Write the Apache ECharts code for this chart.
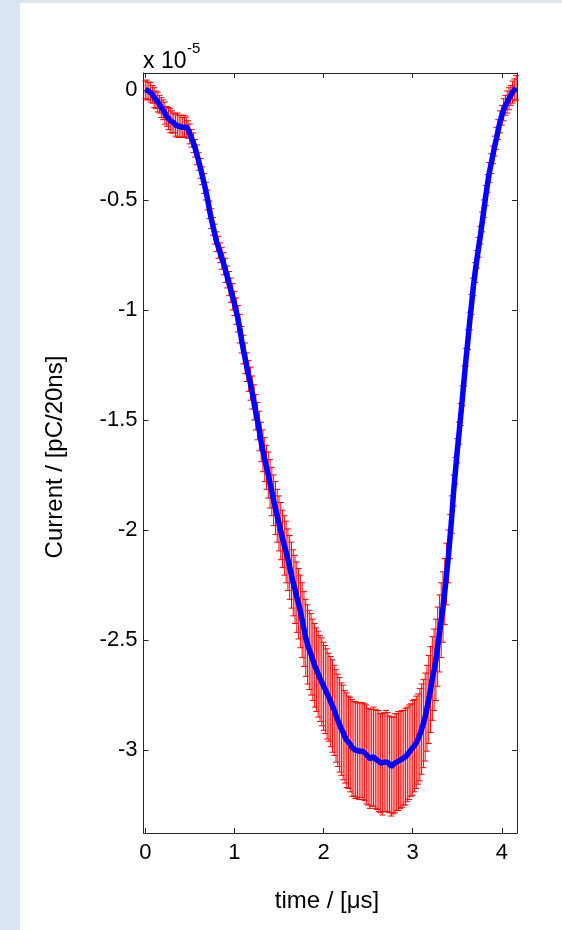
<!DOCTYPE html>
<html>
  <head>
    <meta charset="utf-8" />
    <title>Current vs time</title>
    <style>
      html, body { margin: 0; padding: 0; background: #dbe5f1; }
      #chart-container {
        position: absolute; left: 20px; top: 3px;
        width: 542px; height: 927px; background: #ffffff;
      }
    </style>
  </head>
  <body>
    <div id="chart-container"></div>
    <script src="https://fastly.jsdelivr.net/npm/echarts@6/dist/echarts.min.js"></script>
    <script>
      // sampling step of the recording, in microseconds (20 ns)
      var dt = 0.02;

      // mean current, units of 1e-5 pC/20ns, one value per sample from t = 0
      var meanCurrent = [
        0.00, 0.00, -0.005, -0.01, -0.02, -0.035, -0.045, -0.055, -0.065, -0.08,
        -0.09, -0.105, -0.12, -0.13, -0.14, -0.145, -0.15, -0.16, -0.16, -0.165,
        -0.165, -0.17, -0.165, -0.168, -0.18, -0.2, -0.22, -0.24, -0.265, -0.295,
        -0.325, -0.356, -0.39, -0.425, -0.46, -0.5, -0.545, -0.585, -0.62, -0.655,
        -0.69, -0.715, -0.74, -0.765, -0.79, -0.82, -0.85, -0.88, -0.91, -0.94,
        -0.97, -1.005, -1.04, -1.085, -1.135, -1.18, -1.22, -1.26, -1.3, -1.335,
        -1.375, -1.42, -1.465, -1.505, -1.55, -1.6, -1.64, -1.68, -1.715, -1.75,
        -1.79, -1.825, -1.865, -1.9, -1.935, -1.97, -2.005, -2.04, -2.07, -2.1,
        -2.135, -2.17, -2.205, -2.24, -2.27, -2.305, -2.335, -2.37, -2.41, -2.45,
        -2.49, -2.52, -2.545, -2.565, -2.59, -2.615, -2.635, -2.655, -2.675, -2.69,
        -2.71, -2.725, -2.745, -2.76, -2.78, -2.8, -2.82, -2.845, -2.865, -2.885,
        -2.905, -2.92, -2.94, -2.955, -2.965, -2.975, -2.99, -2.995, -3.0, -3.0,
        -3.005, -3.0, -3.005, -3.01, -3.02, -3.03, -3.04, -3.035, -3.03, -3.04,
        -3.045, -3.05, -3.06, -3.065, -3.055, -3.05, -3.055, -3.065, -3.075, -3.07,
        -3.06, -3.055, -3.05, -3.045, -3.04, -3.035, -3.03, -3.02, -3.01, -3.0,
        -2.99, -2.98, -2.965, -2.95, -2.93, -2.905, -2.88, -2.85, -2.81, -2.77,
        -2.725, -2.675, -2.635, -2.59, -2.53, -2.47, -2.41, -2.35, -2.28, -2.2,
        -2.12, -2.03, -1.93, -1.82, -1.73, -1.64, -1.56, -1.475, -1.39, -1.3,
        -1.215, -1.135, -1.05, -0.975, -0.895, -0.83, -0.77, -0.715, -0.66, -0.6,
        -0.54, -0.48, -0.425, -0.375, -0.335, -0.295, -0.255, -0.22, -0.18, -0.145,
        -0.115, -0.09, -0.07, -0.055, -0.04, -0.025, -0.01, 0.0, 0.01
      ];

      // half-height of the error bar at each sample, same units
      var errCurrent = [
        0.04, 0.045, 0.04, 0.045, 0.04, 0.045, 0.04, 0.045, 0.04, 0.045,
        0.045, 0.05, 0.045, 0.05, 0.055, 0.05, 0.045, 0.05, 0.055, 0.05,
        0.05, 0.045, 0.05, 0.045, 0.04, 0.045, 0.04, 0.045, 0.04, 0.045,
        0.04, 0.045, 0.04, 0.045, 0.04, 0.045, 0.04, 0.045, 0.04, 0.045,
        0.045, 0.05, 0.045, 0.05, 0.05, 0.055, 0.05, 0.055, 0.055, 0.06,
        0.055, 0.06, 0.06, 0.065, 0.06, 0.065, 0.07, 0.065, 0.07, 0.075,
        0.075, 0.08, 0.08, 0.085, 0.09, 0.09, 0.095, 0.1, 0.1, 0.105,
        0.11, 0.11, 0.115, 0.12, 0.12, 0.125, 0.13, 0.13, 0.135, 0.14,
        0.14, 0.145, 0.15, 0.15, 0.155, 0.16, 0.16, 0.165, 0.17, 0.17,
        0.175, 0.18, 0.18, 0.185, 0.185, 0.19, 0.19, 0.195, 0.195, 0.2,
        0.2, 0.2, 0.205, 0.2, 0.205, 0.21, 0.205, 0.21, 0.21, 0.215,
        0.21, 0.215, 0.21, 0.215, 0.21, 0.215, 0.22, 0.215, 0.22, 0.215,
        0.22, 0.215, 0.22, 0.22, 0.225, 0.22, 0.225, 0.22, 0.225, 0.225,
        0.225, 0.23, 0.225, 0.23, 0.225, 0.23, 0.225, 0.22, 0.225, 0.22,
        0.225, 0.22, 0.225, 0.22, 0.22, 0.215, 0.22, 0.215, 0.215, 0.21,
        0.215, 0.21, 0.21, 0.205, 0.21, 0.205, 0.2, 0.2, 0.195, 0.2,
        0.195, 0.19, 0.185, 0.185, 0.18, 0.175, 0.17, 0.16, 0.15, 0.14,
        0.12, 0.1, 0.085, 0.07, 0.06, 0.055, 0.05, 0.05, 0.045, 0.045,
        0.04, 0.045, 0.04, 0.045, 0.04, 0.045, 0.04, 0.045, 0.04, 0.045,
        0.04, 0.045, 0.04, 0.045, 0.045, 0.04, 0.045, 0.05, 0.045, 0.05,
        0.045, 0.05, 0.045, 0.05, 0.05, 0.045, 0.05, 0.05, 0.055
      ];

      var xRange = [-0.02, 4.17];
      var yRange = [-3.377, 0.077];

      var lineData = [];
      var errData = [];
      for (var i = 0; i < meanCurrent.length; i++) {
        var t = +(i * dt).toFixed(2);
        lineData.push([t, meanCurrent[i]]);
        errData.push([t, meanCurrent[i] - errCurrent[i], meanCurrent[i] + errCurrent[i]]);
      }

      var font = "'Liberation Sans', Arial, sans-serif";
      var boxLine = { color: "#262626", width: 1 };
      var tickStyle = { inside: true, length: 5, lineStyle: { color: "#262626" } };

      var dom = document.getElementById("chart-container");
      var myChart = echarts.init(dom, null, { renderer: "canvas" });

      function renderErrorBar(params, api) {
        var x = api.value(0);
        var lo = api.coord([x, api.value(1)]);
        var hi = api.coord([x, api.value(2)]);
        var w = 3;
        var style = { stroke: "#ff0000", lineWidth: 1 };
        return {
          type: "group",
          children: [
            { type: "line", shape: { x1: lo[0], y1: lo[1], x2: hi[0], y2: hi[1] }, style: style },
            { type: "line", shape: { x1: lo[0] - w, y1: lo[1], x2: lo[0] + w, y2: lo[1] }, style: style },
            { type: "line", shape: { x1: hi[0] - w, y1: hi[1], x2: hi[0] + w, y2: hi[1] }, style: style }
          ]
        };
      }

      var option = {
        animation: false,
        backgroundColor: "#ffffff",
        textStyle: { fontFamily: font },
        grid: { left: 123.5, top: 70, right: 45, bottom: 97 },
        xAxis: [
          {
            type: "value", position: "bottom", min: xRange[0], max: xRange[1],
            axisLine: { onZero: false, lineStyle: boxLine },
            axisTick: tickStyle,
            splitLine: { show: false },
            axisLabel: {
              showMinLabel: false, showMaxLabel: false, margin: 9,
              color: "#000", fontSize: 22, fontFamily: font
            }
          },
          {
            type: "value", position: "top", min: xRange[0], max: xRange[1],
            axisLine: { onZero: false, lineStyle: boxLine },
            axisTick: tickStyle,
            splitLine: { show: false },
            axisLabel: { show: false }
          }
        ],
        yAxis: [
          {
            type: "value", position: "left", min: yRange[0], max: yRange[1],
            axisLine: { show: true, onZero: false, lineStyle: boxLine },
            axisTick: { show: true, inside: true, length: 5, lineStyle: { color: "#262626" } },
            splitLine: { show: false },
            axisLabel: {
              showMinLabel: false, showMaxLabel: false, margin: 6,
              color: "#000", fontSize: 22, fontFamily: font
            }
          },
          {
            type: "value", position: "right", min: yRange[0], max: yRange[1],
            axisLine: { show: true, onZero: false, lineStyle: boxLine },
            axisTick: { show: true, inside: true, length: 5, lineStyle: { color: "#262626" } },
            splitLine: { show: false },
            axisLabel: { show: false }
          }
        ],
        graphic: [
          {
            type: "text", left: 123, top: 47,
            style: { text: "x 10", fontSize: 23, fontFamily: font, fill: "#000" }
          },
          {
            type: "text", left: 167, top: 38,
            style: { text: "-5", fontSize: 15, fontFamily: font, fill: "#000" }
          },
          {
            type: "text", x: 35, y: 454, rotation: Math.PI / 2,
            style: {
              text: "Current / [pC/20ns]", fontSize: 24, fontFamily: font, fill: "#000",
              textAlign: "center", textVerticalAlign: "middle"
            }
          },
          {
            type: "text", x: 307, y: 898,
            style: {
              text: "time / [\u03bcs]", fontSize: 24, fontFamily: font, fill: "#000",
              textAlign: "center", textVerticalAlign: "middle"
            }
          }
        ],
        series: [
          {
            type: "custom",
            name: "error",
            renderItem: renderErrorBar,
            encode: { x: 0, y: [1, 2] },
            data: errData,
            z: 2
          },
          {
            type: "line",
            name: "mean",
            data: lineData,
            showSymbol: false,
            lineStyle: { color: "#0000ff", width: 5.5 },
            itemStyle: { color: "#0000ff" },
            z: 3
          }
        ]
      };

      myChart.setOption(option);
      window.addEventListener("resize", myChart.resize);
    </script>
  </body>
</html>
